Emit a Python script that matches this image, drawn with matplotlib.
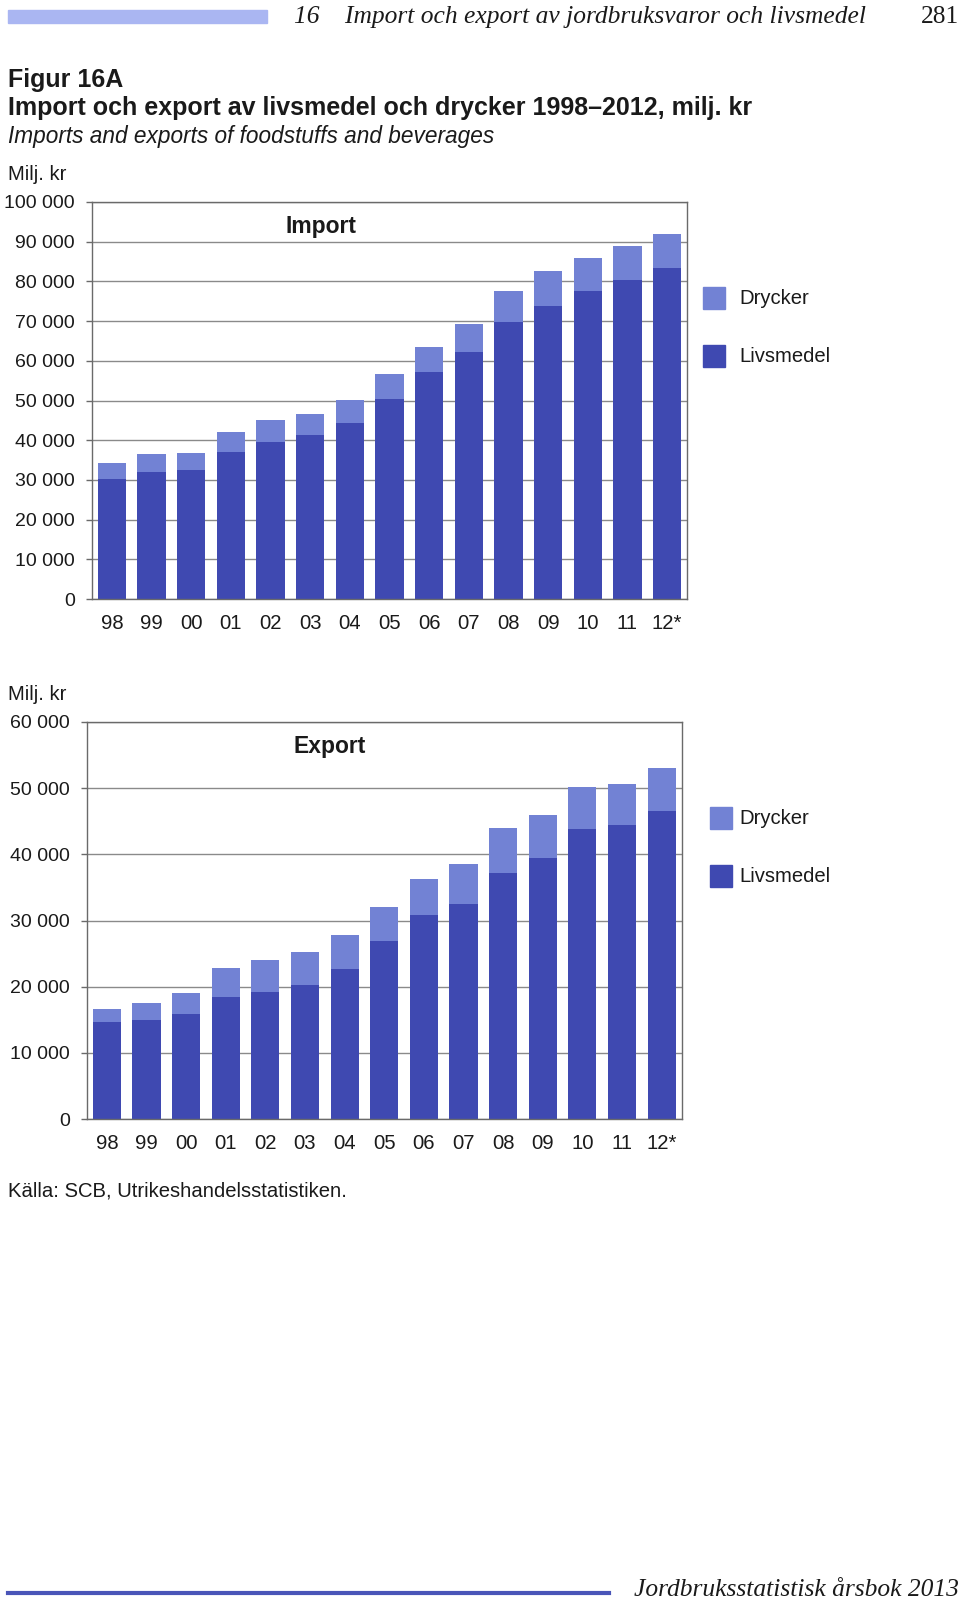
import matplotlib
matplotlib.use("Agg")
import matplotlib.pyplot as plt
from matplotlib.patches import Rectangle
from matplotlib.lines import Line2D

plt.rcParams['font.family'] = ['Liberation Sans', 'DejaVu Sans']

years = ["98", "99", "00", "01", "02", "03", "04", "05", "06", "07", "08", "09", "10", "11", "12*"]

import_livsmedel = [30.2, 31.9, 32.5, 37.1, 39.6, 41.3, 44.4, 50.5, 57.3, 62.2, 69.7, 73.7, 77.5, 80.3, 83.3]
import_total = [34.2, 36.4, 36.7, 42.0, 45.1, 46.7, 50.0, 56.6, 63.6, 69.3, 77.6, 82.5, 85.9, 88.9, 92.0]
export_livsmedel = [14.6, 14.9, 15.8, 18.5, 19.2, 20.2, 22.6, 26.9, 30.8, 32.5, 37.2, 39.5, 43.9, 44.5, 46.5]
export_total = [16.7, 17.6, 19.0, 22.8, 24.05, 25.3, 27.8, 32.1, 36.3, 38.6, 44.0, 45.9, 50.2, 50.7, 53.05]

import_livsmedel = [v * 1000 for v in import_livsmedel]
import_drycker = [t * 1000 - l for t, l in zip(import_total, import_livsmedel)]
export_livsmedel = [v * 1000 for v in export_livsmedel]
export_drycker = [t * 1000 - l for t, l in zip(export_total, export_livsmedel)]

import_ticks = list(range(0, 100001, 10000))
export_ticks = list(range(0, 60001, 10000))

C_LIV = '#3f49b1'
C_DRY = '#7282d4'
TXT = '#1a1a1a'
FS = 14.6

W, H = 960, 1600
fig = plt.figure(figsize=(W / 100, H / 100), dpi=100)


def rect(l, t, r, b):
    return [l / W, 1 - b / H, (r - l) / W, (b - t) / H]


def fx(x):
    return x / W


def fy(y):
    return 1 - y / H


def fmt(v):
    return f"{v:,}".replace(",", " ")


def draw_panel(axr, liv, dry, ticks, title, title_xy, legend_xy, sq_x):
    ax = fig.add_axes(rect(*axr))
    x = list(range(len(years)))
    ax.bar(x, liv, width=0.71, color=C_LIV, zorder=2)
    ax.bar(x, dry, bottom=liv, width=0.71, color=C_DRY, zorder=2)
    ax.set_xlim(-0.5, len(years) - 0.5)
    ax.set_ylim(ticks[0], ticks[-1])
    ax.set_yticks(ticks)
    ax.set_yticklabels([fmt(t) for t in ticks])
    ax.set_xticks(x)
    ax.set_xticklabels(years)
    ax.yaxis.grid(True, color='#8a8a8a', linewidth=1.0)
    ax.set_axisbelow(True)
    for s in ax.spines.values():
        s.set_color('#6a6a6a')
        s.set_linewidth(1.0)
    ax.tick_params(axis='y', length=4.3, width=1.0, color='#6a6a6a', labelsize=14,
                   labelcolor=TXT, pad=8)
    ax.tick_params(axis='x', length=0, labelsize=FS, labelcolor=TXT, pad=10.5)
    fig.text(fx(title_xy[0]), fy(title_xy[1]), title, fontsize=16.5, fontweight='bold',
             color=TXT, ha='center', va='center')
    for i, (lab, col) in enumerate([("Drycker", C_DRY), ("Livsmedel", C_LIV)]):
        cy = legend_xy[1] + i * 58
        fig.patches.append(Rectangle((fx(sq_x), fy(cy + 11)), 22 / W, 22 / H,
                                     transform=fig.transFigure, color=col, zorder=3))
        fig.text(fx(legend_xy[0]), fy(cy), lab, fontsize=FS, color=TXT,
                 ha='left', va='center')
    return ax


# header
fig.patches.append(Rectangle((fx(8), fy(23)), 259 / W, 13 / H, transform=fig.transFigure,
                             color='#aab6f2', zorder=1))
fig.text(fx(294), fy(17), "16    Import och export av jordbruksvaror och livsmedel",
         fontsize=18.4, style='italic', family=['Liberation Serif', 'DejaVu Serif'],
         color=TXT, ha='left', va='center')
fig.text(fx(959), fy(17), "281", fontsize=18.4, family=['Liberation Serif', 'DejaVu Serif'],
         color=TXT, ha='right', va='center')

fig.text(fx(8), fy(80), "Figur 16A", fontsize=18, fontweight='bold', color=TXT,
         ha='left', va='center')
fig.text(fx(8), fy(108), "Import och export av livsmedel och drycker 1998\u20132012, milj. kr",
         fontsize=18, fontweight='bold', color=TXT, ha='left', va='center')
fig.text(fx(8), fy(137), "Imports and exports of foodstuffs and beverages",
         fontsize=16.3, style='italic', color=TXT, ha='left', va='center')

fig.text(fx(8), fy(174), "Milj. kr", fontsize=FS, color=TXT, ha='left', va='center')
draw_panel((92, 202, 687, 599), import_livsmedel, import_drycker, import_ticks,
           "Import", (321, 226), (739, 298), 703)

fig.text(fx(8), fy(694), "Milj. kr", fontsize=FS, color=TXT, ha='left', va='center')
draw_panel((87, 722, 681.5, 1119), export_livsmedel, export_drycker, export_ticks,
           "Export", (330, 746), (739, 818), 710)

fig.text(fx(8), fy(1191), "K\u00e4lla: SCB, Utrikeshandelsstatistiken.", fontsize=FS,
         color=TXT, ha='left', va='center')

# footer
fig.lines.append(Line2D([fx(8), fx(609)], [fy(1593), fy(1593)], transform=fig.transFigure,
                        color='#4a55b8', linewidth=3))
fig.text(fx(959), fy(1590), "Jordbruksstatistisk \u00e5rsbok 2013", fontsize=18.4,
         style='italic', family=['Liberation Serif', 'DejaVu Serif'], color=TXT,
         ha='right', va='center')

fig.savefig("out.png", dpi=100, facecolor='white')
